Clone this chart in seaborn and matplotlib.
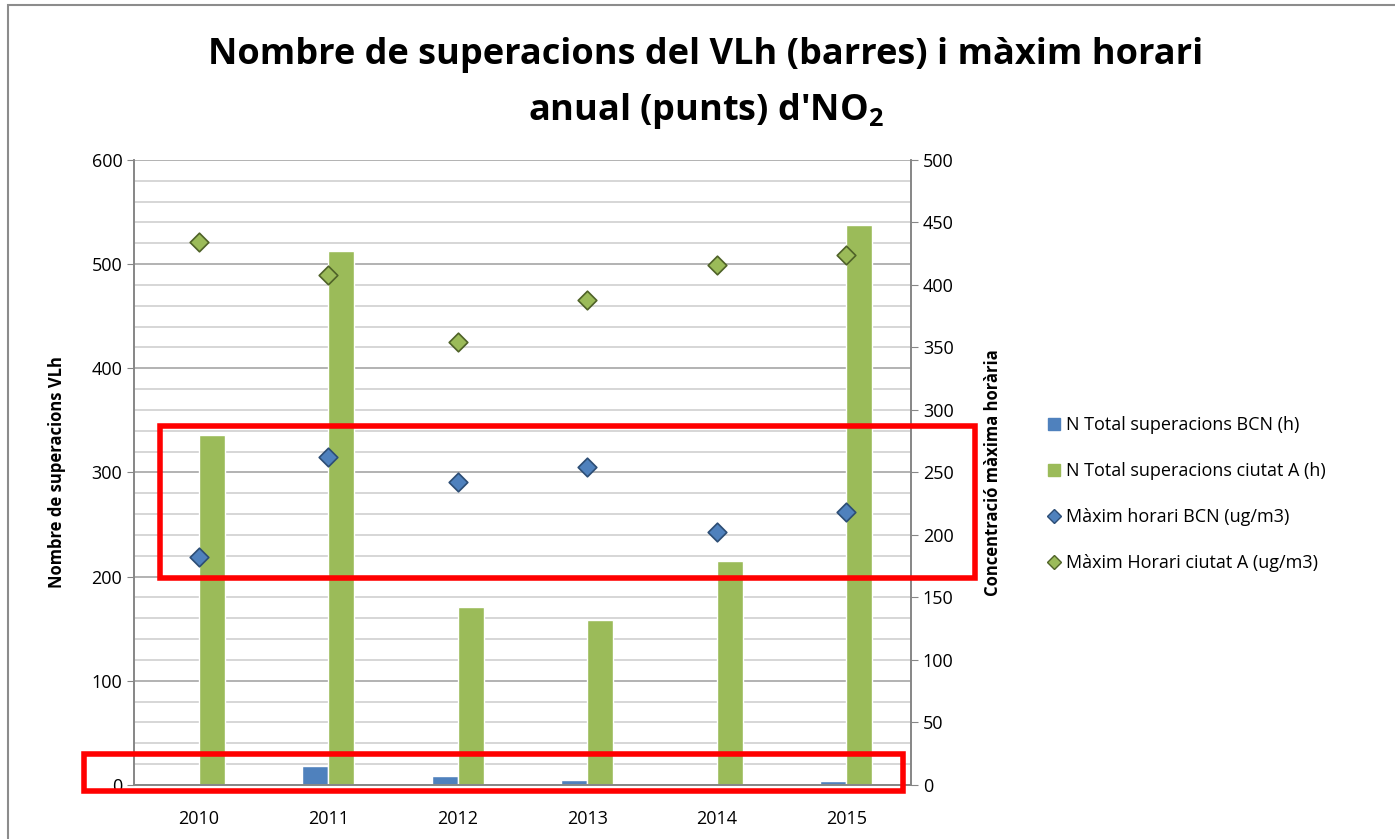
import matplotlib
matplotlib.use("Agg")
import matplotlib.pyplot as plt
import numpy as np
import pandas as pd
import seaborn as sns
from matplotlib.lines import Line2D
from matplotlib.patches import Rectangle
from matplotlib.ticker import MultipleLocator

years = ["2010", "2011", "2012", "2013", "2014", "2015"]
hores_bcn = [0, 18, 9, 5, 0, 4]
hores_ciutat_a = [336, 513, 171, 158, 215, 538]
max_bcn = [182, 262, 242, 254, 202, 218]
max_ciutat_a = [434, 408, 354, 388, 416, 424]

lbl_bars = ["N Total superacions BCN (h)", "N Total superacions ciutat A (h)"]
lbl_pts = ["Màxim horari BCN (ug/m3)", "Màxim Horari ciutat A (ug/m3)"]

blue = "#4f81bd"
green = "#9bbb59"

bars = pd.DataFrame({
    "year": years * 2,
    "value": hores_bcn + hores_ciutat_a,
    "serie": [lbl_bars[0]] * 6 + [lbl_bars[1]] * 6,
})
pts = pd.DataFrame({
    "year": years * 2,
    "value": max_bcn + max_ciutat_a,
    "serie": [lbl_pts[0]] * 6 + [lbl_pts[1]] * 6,
})

sns.set_style("white")
plt.rcParams["font.family"] = ["Open Sans", "DejaVu Sans"]
plt.rcParams["text.color"] = "black"
plt.rcParams["axes.labelcolor"] = "black"
plt.rcParams["xtick.color"] = "black"
plt.rcParams["ytick.color"] = "black"

fig = plt.figure(figsize=(13.95, 8.39), dpi=100)
ax = fig.add_axes([0.0961, 0.0644, 0.557, 0.7449])

sns.barplot(data=bars, x="year", y="value", hue="serie", order=years,
            palette=[blue, green], width=0.4, gap=0, saturation=1,
            ax=ax, legend=False)
ax.set_xlim(-0.5, 5.5)
ax.set_ylim(0, 600)
ax.yaxis.set_major_locator(MultipleLocator(100))
ax.yaxis.set_minor_locator(MultipleLocator(20))
ax.grid(which="minor", axis="y", color="#cfcfcf", lw=1.2)
ax.grid(which="major", axis="y", color="#a6a6a6", lw=1.2)
ax.set_axisbelow(True)
ax.set_xlabel("")
ax.set_ylabel("Nombre de superacions VLh", fontsize=12, fontweight="bold", labelpad=18)
ax.tick_params(axis="y", which="major", length=5, color="#868686", labelsize=13)
ax.tick_params(axis="y", which="minor", length=0)
ax.tick_params(axis="x", length=0, labelsize=13, pad=18, colors="black")

ax2 = ax.twinx()
for lbl, col, edge in zip(lbl_pts, [blue, green], ["#2c4d75", "#4f6228"]):
    sub = pts[pts["serie"] == lbl].copy()
    sub["pos"] = sub["year"].map({y: i for i, y in enumerate(years)})
    sns.scatterplot(data=sub, x="pos", y="value", marker="D", s=90,
                    color=col, edgecolor=edge, linewidth=1.2, ax=ax2, legend=False, zorder=5)
ax2.set_xlim(-0.5, 5.5)
ax2.set_ylim(0, 500)
ax2.yaxis.set_major_locator(MultipleLocator(50))
ax2.set_ylabel("Concentració màxima horària", fontsize=12, fontweight="bold", labelpad=22)
ax2.tick_params(axis="y", length=5, color="#868686", labelsize=13)
ax2.set_xlabel("")

for a in (ax, ax2):
    for sp in a.spines.values():
        sp.set_color("#868686")
        sp.set_linewidth(1.2)
    a.spines["top"].set_visible(False)

fig.text(0.506, 0.935, "Nombre de superacions del VLh (barres) i màxim horari",
         ha="center", va="center", fontsize=26, fontweight="bold")
fig.text(0.506, 0.868, "anual (punts) d'NO$_\\mathregular{2}$",
         ha="center", va="center", fontsize=26, fontweight="bold")

handles = [
    Line2D([], [], ls="none", marker="s", ms=9, color=blue),
    Line2D([], [], ls="none", marker="s", ms=9, color=green),
    Line2D([], [], ls="none", marker="D", ms=7, color=blue, mec="#2c4d75"),
    Line2D([], [], ls="none", marker="D", ms=7, color=green, mec="#4f6228"),
]
fig.legend(handles, lbl_bars + lbl_pts, loc="upper left",
           bbox_to_anchor=(1032 / 1395, 1 - 400 / 839), frameon=False,
           fontsize=13, handlelength=0.6, handletextpad=0.4, labelspacing=1.55)

W, H = 1395, 839
def px_rect(x0, y0, x1, y1, **kw):
    fig.add_artist(Rectangle((x0 / W, 1 - y1 / H), (x1 - x0) / W, (y1 - y0) / H,
                             transform=fig.transFigure, fill=False, **kw))

px_rect(8, 5, 1400, 845, ec="#8c8c8c", lw=1.5)
px_rect(160, 426, 975, 578, ec="#ff0000", lw=4, zorder=10)
px_rect(84, 754, 903, 791, ec="#ff0000", lw=4, zorder=10)

fig.savefig("out.png", dpi=100)
